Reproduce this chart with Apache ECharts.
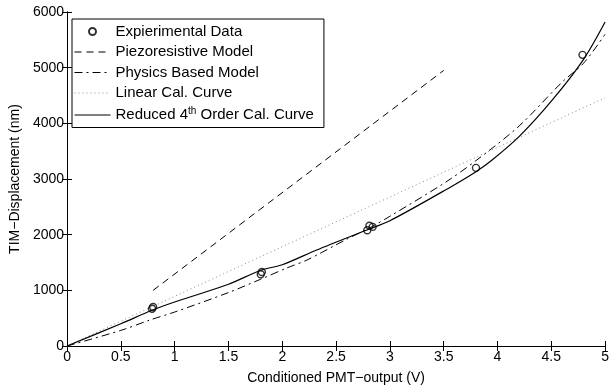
<!DOCTYPE html>
<html><head><meta charset="utf-8">
<script src="https://cdn.jsdelivr.net/npm/echarts@6/dist/echarts.min.js"></script>
<style>html,body{margin:0;padding:0;background:#fff}#c{width:612px;height:392px}</style>
</head><body><div id="c"></div>
<script>
const xTicks = [0, 0.5, 1, 1.5, 2, 2.5, 3, 3.5, 4, 4.5, 5];
const yTicks = [0, 1000, 2000, 3000, 4000, 5000, 6000];
const expX = [0.79, 0.80, 1.80, 1.81, 2.79, 2.81, 2.84, 3.80, 4.79];
const expY = [670, 700, 1290, 1330, 2080, 2160, 2140, 3200, 5230];
const piezoX = [0.8, 3.5];
const piezoY = [1000, 4950];
const physX = [0, 0.5, 0.77, 1, 1.5, 1.8, 2.04, 2.23, 2.6, 2.8, 3.0, 3.52, 3.8, 4.2, 4.6, 4.8, 5];
const physY = [0, 280, 467, 610, 960, 1200, 1400, 1545, 1920, 2110, 2330, 2945, 3330, 3950, 4740, 5080, 5600];
const linX = [0, 5];
const linY = [0, 4460];
const redX = [0, 0.5, 0.8, 1, 1.5, 1.8, 2, 2.32, 2.78, 3, 3.55, 3.8, 3.95, 4.2, 4.51, 4.8, 5];
const redY = [0, 400, 650, 790, 1110, 1360, 1460, 1725, 2080, 2250, 2840, 3130, 3340, 3760, 4420, 5150, 5820];
const names = ['Expierimental Data', 'Piezoresistive Model', 'Physics Based Model', 'Linear Cal. Curve', 'Reduced 4th Order Cal. Curve'];

const zip = (a, b) => a.map((v, i) => [v, b[i]]);
const font = 'Liberation Sans, Arial, sans-serif';
const chart = echarts.init(document.getElementById('c'));
const axisBase = {
  type: 'value', splitLine: {show: false},
  axisLine: {show: true, lineStyle: {color: '#000', width: 1}},
  axisTick: {show: true, inside: true, length: 5, lineStyle: {color: '#000'}},
};
chart.setOption({
  animation: false,
  grid: {left: 67, right: 6, top: 12, bottom: 46, containLabel: false},
  xAxis: [
    Object.assign({}, axisBase, {min: 0, max: 5, interval: 0.5, position: 'bottom',
      name: 'Conditioned PMT\u2212output (V)', nameLocation: 'middle', nameGap: 25,
      nameTextStyle: {fontFamily: font, fontSize: 14, color: '#000'},
      axisLabel: {fontFamily: font, fontSize: 14, color: '#000', margin: 4, formatter: v => String(v)}}),
    Object.assign({}, axisBase, {min: 0, max: 5, interval: 0.5, position: 'top', axisLabel: {show: false}})
  ],
  yAxis: [
    Object.assign({}, axisBase, {min: 0, max: 6000, interval: 1000, position: 'left',
      name: 'TIM\u2212Displacement (nm)', nameLocation: 'middle', nameGap: 40, nameRotate: 90,
      nameTextStyle: {fontFamily: font, fontSize: 14, color: '#000'},
      axisLabel: {fontFamily: font, fontSize: 14, color: '#000', margin: 3, formatter: v => String(v)}}),
    Object.assign({}, axisBase, {min: 0, max: 6000, interval: 1000, position: 'right', axisLabel: {show: false}})
  ],
  legend: {
    orient: 'vertical', left: 72, top: 19, itemWidth: 36, itemHeight: 7, itemGap: 5.5,
    padding: [5, 10, 5, 2], borderColor: '#000', borderWidth: 1, backgroundColor: '#fff',
    lineStyle: {width: 1},
    data: names.map((n, i) => i === 0
      ? {name: n, icon: 'emptyCircle', itemStyle: {color: '#000', borderColor: '#000', borderWidth: 1.2}}
      : {name: n, itemStyle: {opacity: 0}}),
    textStyle: {fontFamily: font, fontSize: 15, color: '#000',
      rich: {sup: {fontSize: 10, verticalAlign: 'top', padding: [0, 0, 8, 0], fontFamily: font}}},
    formatter: n => n === names[4] ? 'Reduced 4{sup|th} Order Cal. Curve' : n
  },
  series: [
    {name: names[0], type: 'scatter', data: zip(expX, expY), symbol: 'circle', symbolSize: 7,
     itemStyle: {color: 'rgba(0,0,0,0)', borderColor: '#000', borderWidth: 1.4}, z: 5},
    {name: names[1], type: 'line', data: zip(piezoX, piezoY), symbol: 'none',
     lineStyle: {color: '#000', width: 1, type: [7, 5]}, itemStyle: {color: '#000'}},
    {name: names[2], type: 'line', data: zip(physX, physY), symbol: 'none', smooth: 0.3,
     lineStyle: {color: '#000', width: 1, type: [8, 4, 2, 4]}, itemStyle: {color: '#000'}},
    {name: names[3], type: 'line', data: zip(linX, linY), symbol: 'none',
     lineStyle: {color: '#888', width: 1, type: [1, 3]}, itemStyle: {color: '#888'}},
    {name: names[4], type: 'line', data: zip(redX, redY), symbol: 'none', smooth: 0.3,
     lineStyle: {color: '#000', width: 1.2}, itemStyle: {color: '#000'}}
  ]
});
</script></body></html>
